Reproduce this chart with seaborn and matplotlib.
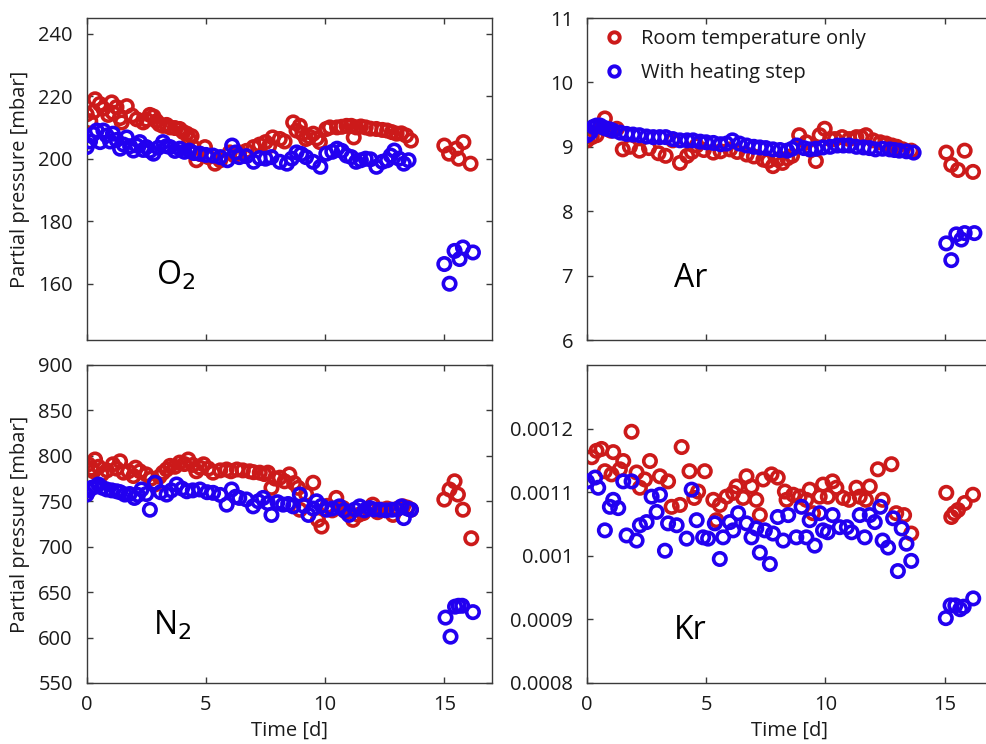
import matplotlib
matplotlib.use("Agg")
import matplotlib.pyplot as plt
from matplotlib.lines import Line2D
from matplotlib.ticker import FixedLocator, FuncFormatter
import seaborn as sns

# ---- data -------------------------------------------------------------
room_label = "Room temperature only"
heat_label = "With heating step"

o2_room_t = [0.0, 0.15, 0.28, 0.35, 0.55, 0.7, 0.9, 1.05, 1.1, 1.25, 1.4, 1.47, 1.68, 1.9, 2.1,
             2.37, 2.5, 2.65, 2.8, 2.93, 3.05, 3.2, 3.35, 3.5, 3.7, 3.9, 4.05, 4.2, 4.3, 4.4,
             4.47, 4.6, 4.75, 4.96, 5.1, 5.38, 5.6, 6.0, 6.2, 6.4, 6.7, 7.0, 7.25, 7.5, 7.65,
             7.8, 8.1, 8.3, 8.66, 8.8, 8.94, 9.05, 9.2, 9.35, 9.5, 9.65, 9.78, 10.05, 10.2, 10.5,
             10.7, 10.9, 11.1, 11.2, 11.3, 11.5, 11.7, 11.9, 12.15, 12.4, 12.6, 12.8, 13.0, 13.2, 13.4,
             13.6,
             15.0, 15.2, 15.5, 15.6, 15.8, 16.1]
o2_room_v = [214.2, 212, 215, 219, 217.5, 216, 214, 218, 214.7, 216.5, 213, 211.6, 216.8, 213.8, 212.6,
             211.6, 212.5, 214, 213.5, 212, 211, 210.5, 210.8, 210, 209.8, 209.5, 208.5, 208, 206.3, 207.2,
             203.7, 199.5, 201.5, 203.7, 200.5, 198.4, 199.5, 202, 201, 202, 202.5, 203.7, 204.5, 205.3, 204,
             206.8, 206.3, 205.5, 211.6, 209, 210.5, 208, 206.3, 207, 208, 206.5, 205.3, 209.5, 210, 210,
             210.2, 210.5, 210.5, 206.8, 210, 210.3, 210, 209.6, 209.5, 209.2, 209, 208.5, 208, 208.1, 207.4,
             205.8,
             204.2, 201.6, 203.2, 200, 205.3, 198.4]
o2_heat_t = [0, 0.14, 0.28, 0.42, 0.56, 0.7, 0.84, 0.98, 1.1, 1.25, 1.4, 1.55, 1.68, 1.82, 1.96,
             2.1, 2.23, 2.37, 2.5, 2.65, 2.8, 3.0, 3.2, 3.35, 3.5, 3.7, 3.9, 4.1, 4.3, 4.5,
             4.75, 5.0, 5.3, 5.6, 5.9, 6.1, 6.25, 6.4, 6.7, 7.0, 7.25, 7.5, 7.75, 8.1, 8.4,
             8.6, 8.8, 9.0, 9.2, 9.5, 9.8, 10.05, 10.3, 10.5, 10.7, 10.9, 11.1, 11.3, 11.5, 11.7,
             11.9, 12.15, 12.4, 12.6, 12.75, 12.9, 13.1, 13.3, 13.5,
             15.0, 15.22, 15.43, 15.64, 15.78, 16.2]
o2_heat_v = [203.7, 205.5, 207.9, 209, 205.3, 209, 207.4, 205.5, 208, 206, 203.2, 204.5, 206.8, 204, 202.6,
             204.2, 205.3, 202.8, 203.7, 202.5, 201.6, 203.5, 205.3, 204, 203.7, 202.5, 203.2, 202.2, 202.6, 201.8,
             201.6, 201.2, 201, 200.5, 199.5, 204.2, 202, 200.5, 200.8, 199, 200.2, 200, 200.5, 199, 198.4,
             200, 202, 201.5, 200.5, 199, 197.4, 201.6, 202.2, 203.2, 202.5, 201, 200.5, 199, 199.5, 200,
             199.8, 197.4, 199, 199.5, 201, 202.6, 200, 198.4, 199.5,
             166.3, 160, 170.5, 167.9, 171.6, 170]

ar_room_t = [0, 0.2, 0.4, 0.6, 0.75, 1.0, 1.25, 1.5, 1.8, 2.2, 2.6, 3.0, 3.3, 3.6, 3.9,
             4.2, 4.4, 4.6, 4.9, 5.3, 5.6, 6.0, 6.3, 6.7, 7.0, 7.4, 7.6, 7.8, 8.0, 8.2,
             8.4, 8.6, 8.9, 9.2, 9.4, 9.6, 9.76, 9.97, 10.2, 10.4, 10.7, 11.0, 11.3, 11.5, 11.7,
             12.0, 12.3, 12.55, 12.8, 13.0, 13.25, 13.6,
             15.07, 15.28, 15.56, 15.84, 16.19]
ar_room_v = [9.10, 9.15, 9.18, 9.3, 9.44, 9.25, 9.28, 8.96, 9.0, 8.94, 8.98, 8.9, 8.86, 9.1, 8.75,
             8.86, 8.92, 9.02, 8.95, 8.91, 8.93, 8.96, 8.92, 8.88, 8.85, 8.80, 8.78, 8.70, 8.8, 8.75,
             8.82, 8.86, 9.18, 9.07, 8.95, 8.78, 9.18, 9.28, 9.12, 9.12, 9.15, 9.12, 9.15, 9.15, 9.18,
             9.1, 9.07, 9.05, 9.02, 9.0, 8.96, 8.94,
             8.91, 8.72, 8.64, 8.94, 8.61]
ar_heat_t = [0, 0.14, 0.27, 0.4, 0.55, 0.68, 0.82, 0.96, 1.1, 1.4, 1.66, 1.93, 2.2, 2.5, 2.78,
             3.05, 3.3, 3.6, 3.9, 4.2, 4.45, 4.75, 5.0, 5.3, 5.6, 5.85, 6.1, 6.4, 6.7, 7.0,
             7.25, 7.5, 7.8, 8.1, 8.4, 8.6, 8.8, 9.1, 9.35, 9.6, 9.9, 10.2, 10.5, 10.75, 11.0,
             11.3, 11.6, 11.85, 12.1, 12.4, 12.7, 12.9, 13.1, 13.4, 13.7,
             15.07, 15.28, 15.49, 15.7, 15.84, 16.25]
ar_heat_v = [9.18, 9.22, 9.31, 9.33, 9.33, 9.3, 9.28, 9.27, 9.25, 9.22, 9.2, 9.19, 9.18, 9.16, 9.15,
             9.15, 9.15, 9.12, 9.1, 9.1, 9.1, 9.08, 9.07, 9.06, 9.04, 9.05, 9.1, 9.05, 9.02, 9.0,
             8.99, 8.98, 8.96, 8.95, 8.94, 8.97, 9.02, 8.98, 8.96, 8.97, 8.99, 9.0, 9.02, 9.02, 9.02,
             9.0, 8.99, 8.98, 8.96, 8.97, 8.96, 8.95, 8.94, 8.93, 8.91,
             7.50, 7.24, 7.64, 7.56, 7.66, 7.66]

n2_room_t = [0.07, 0.2, 0.28, 0.35, 0.5, 0.63, 0.85, 1.1, 1.25, 1.4, 1.54, 1.75, 1.96, 2.05, 2.23,
             2.5, 2.7, 2.86, 3.05, 3.2, 3.35, 3.5, 3.7, 3.9, 4.1, 4.26, 4.45, 4.6, 4.75, 4.9,
             5.1, 5.3, 5.6, 5.87, 6.05, 6.3, 6.55, 6.84, 7.0, 7.26, 7.45, 7.6, 7.75, 7.9, 8.1,
             8.3, 8.5, 8.7, 8.87, 8.94, 9.2, 9.5, 9.7, 9.85, 10.1, 10.3, 10.47, 10.75, 10.9, 11.17,
             11.4, 11.6, 11.8, 12.0, 12.2, 12.4, 12.6, 12.85, 13.05, 13.27, 13.45, 13.6,
             15.0, 15.22, 15.43, 15.57, 15.78, 16.13]
n2_room_v = [790.7, 786, 783, 796, 788, 779.6, 784, 790.7, 786, 794, 781.5, 783, 777.8, 787, 783,
             779.6, 775, 768.5, 777, 781.5, 785, 789, 788, 792.6, 791, 796, 790, 783, 787, 790.7,
             786, 781.5, 784, 785, 783, 785, 784, 783, 782, 781.5, 780, 781.5, 764.8, 775, 776,
             772, 779.6, 770, 764.8, 740.7, 758, 770.4, 729.6, 722.2, 745, 740, 753.7, 742.6, 738, 729.6,
             735, 737, 742, 746.3, 738, 740.7, 742, 735, 742, 744.4, 743, 740.7,
             751.9, 763, 772, 757.4, 740.7, 709.3]
n2_heat_t = [0, 0.1, 0.2, 0.35, 0.49, 0.65, 0.84, 1.05, 1.26, 1.4, 1.6, 1.8, 2.0, 2.15, 2.3,
             2.5, 2.65, 2.86, 3.1, 3.35, 3.55, 3.77, 4.0, 4.2, 4.45, 4.75, 5.05, 5.3, 5.6, 5.87,
             6.08, 6.25, 6.4, 6.7, 6.98, 7.2, 7.4, 7.6, 7.75, 8.0, 8.24, 8.45, 8.66, 8.94, 9.1,
             9.3, 9.5, 9.64, 9.85, 10.06, 10.3, 10.6, 10.8, 11.0, 11.25, 11.45, 11.65, 11.87, 12.05, 12.3,
             12.55, 12.8, 13.0, 13.2, 13.3, 13.45, 13.6,
             15.05, 15.26, 15.45, 15.6, 15.75, 16.2]
n2_heat_v = [757.4, 762, 764.8, 766, 768.5, 765, 763, 762, 761, 760, 757.4, 758, 753.7, 757, 763,
             758, 740.7, 770.4, 760, 757.4, 762, 768.5, 764, 761, 762, 763, 760, 759.3, 757, 746.3,
             763, 755, 753.7, 752, 744.4, 750, 753.7, 748, 735, 749, 746.3, 747, 744.4, 757.4, 745,
             735, 742, 750, 745, 740.7, 742, 744.4, 740, 735, 741, 744.4, 740, 742.6, 741, 740.7,
             740, 740.7, 741, 744.4, 731.5, 742, 740.7,
             622, 601, 634, 635, 635, 628]

kr_room_t = [0.2, 0.4, 0.61, 0.75, 1.03, 1.1, 1.38, 1.52, 1.87, 2.08, 2.22, 2.43, 2.64, 3.06, 3.4,
             3.55, 3.9, 3.97, 4.3, 4.5, 4.66, 4.94, 5.3, 5.43, 5.57, 5.85, 6.13, 6.27, 6.55, 6.69,
             6.9, 7.1, 7.25, 7.39, 7.74, 8.0, 8.3, 8.37, 8.65, 8.92, 9.2, 9.34, 9.48, 9.76, 9.9,
             10.1, 10.3, 10.46, 10.74, 11.0, 11.3, 11.44, 11.7, 11.86, 12.2, 12.4, 12.77, 12.97, 13.3, 13.6,
             15.07, 15.28, 15.4, 15.56, 15.84, 16.19]
kr_room_v = [0.001155, 0.001165, 0.001168, 0.001133, 0.001128, 0.001163, 0.001136, 0.001149, 0.001195, 0.001131,
             0.001107, 0.001120, 0.001149, 0.001125, 0.001117, 0.001077, 0.001080, 0.001171, 0.001133, 0.001091,
             0.001101, 0.001133, 0.001088, 0.001056, 0.001080, 0.001093, 0.001099, 0.001109, 0.001091, 0.001125,
             0.001109, 0.001088, 0.001064, 0.001120, 0.001128, 0.001123, 0.001101, 0.001088, 0.001096, 0.001093,
             0.001088, 0.001104, 0.001067, 0.001093, 0.001112, 0.001093, 0.001117, 0.001107, 0.001091, 0.001088,
             0.001107, 0.001093, 0.001088, 0.001109, 0.001136, 0.001088, 0.001144, 0.001067, 0.001064, 0.001035,
             0.001099, 0.001061, 0.001067, 0.001072, 0.001083, 0.001096]
kr_heat_t = [0, 0.34, 0.47, 0.75, 0.96, 1.1, 1.31, 1.52, 1.66, 1.87, 2.08, 2.22, 2.5, 2.71, 2.92,
             3.06, 3.27, 3.4, 3.76, 4.18, 4.39, 4.6, 4.87, 5.08, 5.36, 5.57, 5.71, 5.99, 6.13, 6.34,
             6.69, 6.9, 7.1, 7.25, 7.46, 7.67, 7.8, 8.0, 8.23, 8.44, 8.78, 9.0, 9.2, 9.34, 9.55,
             9.76, 9.9, 10.1, 10.3, 10.6, 10.9, 11.1, 11.44, 11.65, 11.86, 12.07, 12.3, 12.4, 12.63, 12.84,
             13.04, 13.2, 13.4, 13.6,
             15.05, 15.25, 15.45, 15.65, 15.8, 16.2]
kr_heat_v = [0.001117, 0.001123, 0.001107, 0.001040, 0.001077, 0.001088, 0.001075, 0.001117, 0.001032, 0.001117,
             0.001024, 0.001048, 0.001053, 0.001093, 0.001069, 0.001096, 0.001008, 0.001051, 0.001048, 0.001027,
             0.001104, 0.001056, 0.001029, 0.001027, 0.001051, 0.000995, 0.001029, 0.001053, 0.001040, 0.001067,
             0.001051, 0.001029, 0.001043, 0.001005, 0.001040, 0.000987, 0.001035, 0.001061, 0.001024, 0.001064,
             0.001029, 0.001077, 0.001029, 0.001056, 0.001016, 0.001067, 0.001040, 0.001037, 0.001064, 0.001045,
             0.001045, 0.001037, 0.001064, 0.001029, 0.001064, 0.001053, 0.001077, 0.001024, 0.001013, 0.001059,
             0.000976, 0.001043, 0.001019, 0.000992,
             0.000902, 0.000922, 0.000922, 0.000916, 0.000920, 0.000933]

x_ticks = [0, 5, 10, 15]
o2_ticks = [160, 180, 200, 220, 240]
ar_ticks = [6, 7, 8, 9, 10, 11]
n2_ticks = [550, 600, 650, 700, 750, 800, 850, 900]
kr_ticks = [0.0008, 0.0009, 0.001, 0.0011, 0.0012]

# ---- style ------------------------------------------------------------
sns.set_theme(style="white")
plt.rcParams["font.family"] = ["Open Sans", "DejaVu Sans"]
RED = "#cc1a1a"
BLUE = "#2200f0"
TEXT = "#1a1a1a"
SPINE = "#3a3a3a"

fig = plt.figure(figsize=(9.87, 7.44), dpi=100, facecolor="white")
W, H = 987.0, 744.0


def make_ax(x0, x1, y_top, y_bot):
    return fig.add_axes([x0 / W, 1 - y_bot / H, (x1 - x0) / W, (y_bot - y_top) / H])


ax_o2 = make_ax(86.7, 492, 18, 340)
ax_ar = make_ax(587, 992.3, 18, 340)
ax_n2 = make_ax(86.7, 492, 365, 683)
ax_kr = make_ax(587, 992.3, 365, 683)

panels = [
    (ax_o2, o2_room_t, o2_room_v, o2_heat_t, o2_heat_v, (142, 245), o2_ticks, "O$_2$", (0.22, 0.2)),
    (ax_ar, ar_room_t, ar_room_v, ar_heat_t, ar_heat_v, (6, 11), ar_ticks, "Ar", (0.255, 0.19)),
    (ax_n2, n2_room_t, n2_room_v, n2_heat_t, n2_heat_v, (550, 900), n2_ticks, "N$_2$", (0.21, 0.18)),
    (ax_kr, kr_room_t, kr_room_v, kr_heat_t, kr_heat_v, (0.0008, 0.0013), kr_ticks, "Kr", (0.255, 0.165)),
]

for ax, rt, rv, ht, hv, ylim, yticks, name, name_pos in panels:
    sns.scatterplot(x=rt, y=rv, ax=ax, marker="o", s=80, facecolors="none",
                    edgecolor=RED, linewidth=2.6, zorder=2, legend=False)
    sns.scatterplot(x=ht, y=hv, ax=ax, marker="o", s=80, facecolors="none",
                    edgecolor=BLUE, linewidth=2.6, zorder=3, legend=False)
    ax.set_xlim(0, 17)
    ax.set_ylim(*ylim)
    ax.xaxis.set_major_locator(FixedLocator(x_ticks))
    ax.yaxis.set_major_locator(FixedLocator(yticks))
    ax.yaxis.set_major_formatter(FuncFormatter(lambda v, p: f"{v:g}"))
    ax.tick_params(direction="in", length=4, width=1, color=SPINE,
                   top=True, right=True, bottom=True, left=True,
                   labelsize=14.5, labelcolor=TEXT)
    ax.tick_params(axis="y", pad=10)
    ax.tick_params(axis="x", pad=9)
    for sp in ax.spines.values():
        sp.set_visible(True)
        sp.set_color(SPINE)
        sp.set_linewidth(1.0)
    ax.set_facecolor("white")
    ax.text(name_pos[0], name_pos[1], name, transform=ax.transAxes,
            fontsize=23, color="black", ha="center", va="center")

for ax in (ax_o2, ax_ar):
    ax.tick_params(labelbottom=False)

for ax in (ax_o2, ax_n2):
    ax.set_ylabel("Partial pressure [mbar]", fontsize=14.5, color=TEXT)
    ax.yaxis.set_label_coords(-0.14, 0.5)

for ax in (ax_n2, ax_kr):
    ax.set_xlabel("Time [d]", fontsize=14.5, color=TEXT, labelpad=4)

handles = [
    Line2D([], [], ls="none", marker="o", ms=7.5, mfc="none", mec=RED, mew=2.8, label=room_label),
    Line2D([], [], ls="none", marker="o", ms=7.5, mfc="none", mec=BLUE, mew=2.8, label=heat_label),
]
ax_ar.legend(handles=handles, loc="upper left", bbox_to_anchor=(0.0, 1.0),
             frameon=False, fontsize=14.5, handletextpad=0.55, labelspacing=0.7,
             borderaxespad=0.15, handlelength=1.6, labelcolor=TEXT)

fig.savefig("out.png", dpi=100, facecolor="white")
